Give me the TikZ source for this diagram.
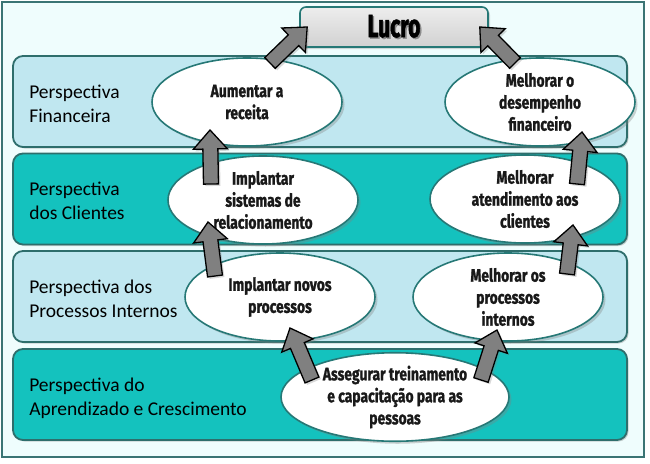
\documentclass[tikz,border=0pt]{standalone}
\usepackage{fontspec}
\setmainfont{Carlito}
\newfontfamily\condfont[FakeStretch=0.77,FakeBold=1.2]{Fira Sans}
\newfontfamily\lucrofont[FakeStretch=0.66,FakeBold=1.5]{Fira Sans}
\usetikzlibrary{shapes.geometric,calc,shadows}
\definecolor{framebg}{HTML}{EFFDFD}
\definecolor{frameline}{HTML}{3A7474}
\definecolor{bandlight}{HTML}{C0E7F0}
\definecolor{bandteal}{HTML}{14C2BE}
\definecolor{bandline}{HTML}{2E6E6C}
\definecolor{ellline}{HTML}{267876}
\definecolor{arrowgray}{HTML}{808080}
\pgfdeclareradialshading{ellshade}{\pgfpoint{-8bp}{8bp}}{color(0bp)=(white); color(30bp)=(white); color(44bp)=(black!10); color(58bp)=(black!38)}
\tikzset{
  band/.style={rectangle, rounded corners=10pt, draw=bandline, line width=1.8pt,
    minimum width=614pt, minimum height=91pt, inner sep=0pt,
    drop shadow={shadow xshift=1.5pt, shadow yshift=-1.5pt, opacity=0.35}},
  lab/.style={anchor=west, align=left, inner sep=0pt, text depth=0pt,
    font=\fontsize{19.5}{24}\selectfont, text=black},
  ell/.style={ellipse, draw=ellline, line width=1.6pt, shading=ellshade,
    minimum width=190pt, minimum height=88pt, inner sep=0pt, align=center,
    font=\condfont\bfseries\fontsize{18}{22}\selectfont, text=black!90,
    drop shadow={shadow xshift=2.5pt, shadow yshift=-2.5pt, opacity=0.35}},
  barrow/.style={fill=arrowgray, draw=black, line width=1.3pt, line join=miter,
    drop shadow={shadow xshift=2pt, shadow yshift=-2pt, opacity=0.3}},
}
\newcommand{\blockarrow}[2]{%
  \coordinate (bah) at ($(#2)!19pt!(#1)$);
  \draw[barrow] ($(#1)!7.5pt!90:(#2)$) -- ($(bah)!7.5pt!-90:(#1)$) -- ($(bah)!17pt!-90:(#1)$)
    -- (#2) -- ($(bah)!17pt!90:(#1)$) -- ($(bah)!7.5pt!90:(#1)$) -- ($(#1)!7.5pt!-90:(#2)$) -- cycle;}
\begin{document}
\begin{tikzpicture}[x=1pt,y=-1pt]
\useasboundingbox (0,0) rectangle (650,463);
% frame
\draw[fill=framebg, draw=frameline, line width=2pt] (1.5,1.5) rectangle (644,457);
% Lucro box
\node[rectangle, rounded corners=6pt, draw=ellline, line width=1.6pt,
  top color=black!7, bottom color=black!18, minimum width=188pt, minimum height=40pt,
  inner sep=0pt, drop shadow={shadow xshift=2pt, shadow yshift=-2pt, opacity=0.3}]
  (lucro) at (394,27) {\lucrofont\bfseries\fontsize{32}{32}\selectfont
  \makebox[0pt][l]{\hspace{1.5pt}\raisebox{-1.5pt}{\color{black!45}Lucro}}Lucro};
% bands
\node[band, fill=bandlight] (b1) at (320,101.5) {};
\node[band, fill=bandteal]  (b2) at (320,199) {};
\node[band, fill=bandlight] (b3) at (320,296.5) {};
\node[band, fill=bandteal]  (b4) at (320,394.5) {};
% labels
\node[lab] (l1) at ($(b1.west)+(17,2)$) {Perspectiva\\Financeira};
\node[lab] (l2) at ($(b2.west)+(17,2)$) {Perspectiva\\dos Clientes};
\node[lab] (l3) at ($(b3.west)+(17,2)$) {Perspectiva dos\\Processos Internos};
\node[lab] (l4) at ($(b4.west)+(17,2)$) {Perspectiva do\\Aprendizado e Crescimento};
% ellipses
\node[ell] (e1) at (247,102) {Aumentar a\\receita};
\node[ell] (e2) at (540,102) {Melhorar o\\desempenho\\financeiro};
\node[ell] (e3) at (263,200) {Implantar\\sistemas de\\relacionamento};
\node[ell] (e4) at (525,199) {Melhorar\\atendimento aos\\clientes};
\node[ell] (e5) at (280,297) {Implantar novos\\processos};
\node[ell] (e6) at (508,297) {Melhorar os\\processos\\internos};
\node[ell, minimum width=228pt] (e7) at (395,397) {Assegurar treinamento\\e capacitação para as\\pessoas};
% arrow end points
\coordinate (s1) at ($(e1)+(23,-39)$);  \coordinate (t1) at ($(lucro.west)+(8,0)$);
\coordinate (s2) at ($(e2)+(-25,-39)$); \coordinate (t2) at ($(lucro.east)+(-9,0)$);
\coordinate (s3) at ($(e3)+(-52,-16)$); \coordinate (t3) at ($(e1)+(-37,28)$);
\coordinate (s4) at ($(e5)+(-65,-21)$); \coordinate (t4) at ($(e3)+(-55,22)$);
\coordinate (s5) at ($(e7)+(-83,-17)$); \coordinate (t5) at ($(e5)+(10,31)$);
\coordinate (s6) at ($(e7)+(86,-17)$);  \coordinate (t6) at ($(e6)+(-11,33)$);
\coordinate (s7) at ($(e6)+(59,-23)$);  \coordinate (t7) at ($(e4)+(48,26)$);
\coordinate (s8) at ($(e4)+(52,-15)$);  \coordinate (t8) at ($(e2)+(42,30)$);
\blockarrow{s1}{t1}
\blockarrow{s2}{t2}
\blockarrow{s3}{t3}
\blockarrow{s4}{t4}
\blockarrow{s5}{t5}
\blockarrow{s6}{t6}
\blockarrow{s7}{t7}
\blockarrow{s8}{t8}
\end{tikzpicture}
\end{document}
